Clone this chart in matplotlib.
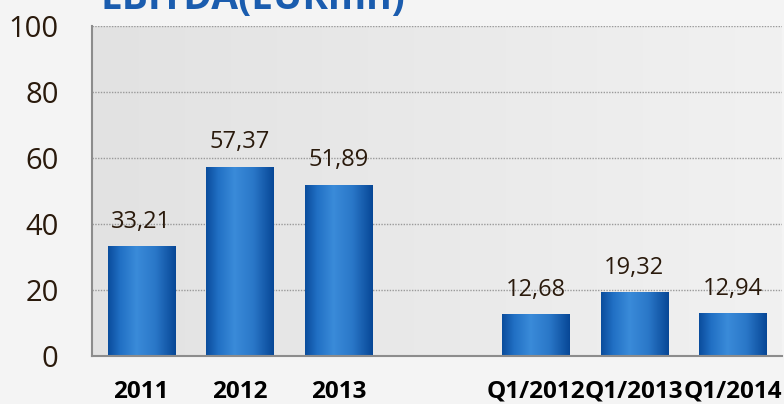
import matplotlib

matplotlib.use("Agg")
import matplotlib.pyplot as plt
import numpy as np
from matplotlib.colors import LinearSegmentedColormap

categories = ["2011", "2012", "2013", "", "Q1/2012", "Q1/2013", "Q1/2014"]
values = [33.21, 57.37, 51.89, None, 12.68, 19.32, 12.94]
labels = ["33,21", "57,37", "51,89", "", "12,68", "19,32", "12,94"]
y_ticks = [0, 20, 40, 60, 80, 100]

TEXT = "#2a1a0c"
TITLE_BLUE = "#1a5cae"

bar_cmap = LinearSegmentedColormap.from_list(
    "bar",
    [(0.0, "#0a4c9c"), (0.18, "#2170c4"), (0.42, "#3a8bd9"),
     (0.7, "#2a77c8"), (1.0, "#074796")],
)
bg_cmap = LinearSegmentedColormap.from_list("bg", ["#e2e2e2", "#f1f1f1"])

fig = plt.figure(figsize=(7.84, 4.04), dpi=100, facecolor="#f4f4f4")
ax = fig.add_axes([92 / 784, 48 / 404, 690 / 784, 330 / 404])
ax.set_xlim(-0.5, len(categories) - 0.5)
ax.set_ylim(0, 100)

# plot area gradient
ax.imshow(
    np.linspace(0, 1, 256).reshape(1, -1),
    cmap=bg_cmap,
    extent=(-0.5, len(categories) - 0.5, 0, 100),
    aspect="auto",
    zorder=0,
)

for y in y_ticks[1:]:
    ax.axhline(y, color="#9a9a9a", lw=1, ls=(0, (1, 1)), zorder=1)

grad = np.linspace(0, 1, 256).reshape(1, -1)
for i, v in enumerate(values):
    if v is None:
        continue
    bar = ax.bar(i, v, width=0.68, color="none", zorder=2)[0]
    im = ax.imshow(
        grad,
        cmap=bar_cmap,
        extent=(i - 0.34, i + 0.34, 0, v),
        aspect="auto",
        zorder=2,
    )
    im.set_clip_path(bar)
    ax.annotate(
        labels[i],
        (i, v),
        xytext=(0, 9),
        textcoords="offset points",
        ha="center",
        va="bottom",
        fontsize=17,
        color=TEXT,
        family="Open Sans",
    )

ax.set_xlim(-0.5, len(categories) - 0.5)
ax.set_ylim(0, 100)

ax.set_xticks(range(len(categories)))
ax.set_xticklabels(categories, fontsize=17.5, fontweight="bold", color="black",
                   family="Open Sans")
ax.set_yticks(y_ticks)
ax.set_yticklabels([str(t) for t in y_ticks], fontsize=21, color=TEXT,
                   family="Open Sans")
ax.tick_params(axis="x", length=0, pad=17)
ax.tick_params(axis="y", length=0, pad=24)

for side in ["top", "right"]:
    ax.spines[side].set_visible(False)
for side in ["left", "bottom"]:
    ax.spines[side].set_color("#8c8c8c")
    ax.spines[side].set_linewidth(1.5)

fig.text(100 / 784, 1 - 9 / 404, "EBITDA(EURmn)", fontsize=28,
         fontweight="bold", color=TITLE_BLUE, va="baseline", family="Open Sans")

fig.savefig("out.png", dpi=100, facecolor=fig.get_facecolor())
